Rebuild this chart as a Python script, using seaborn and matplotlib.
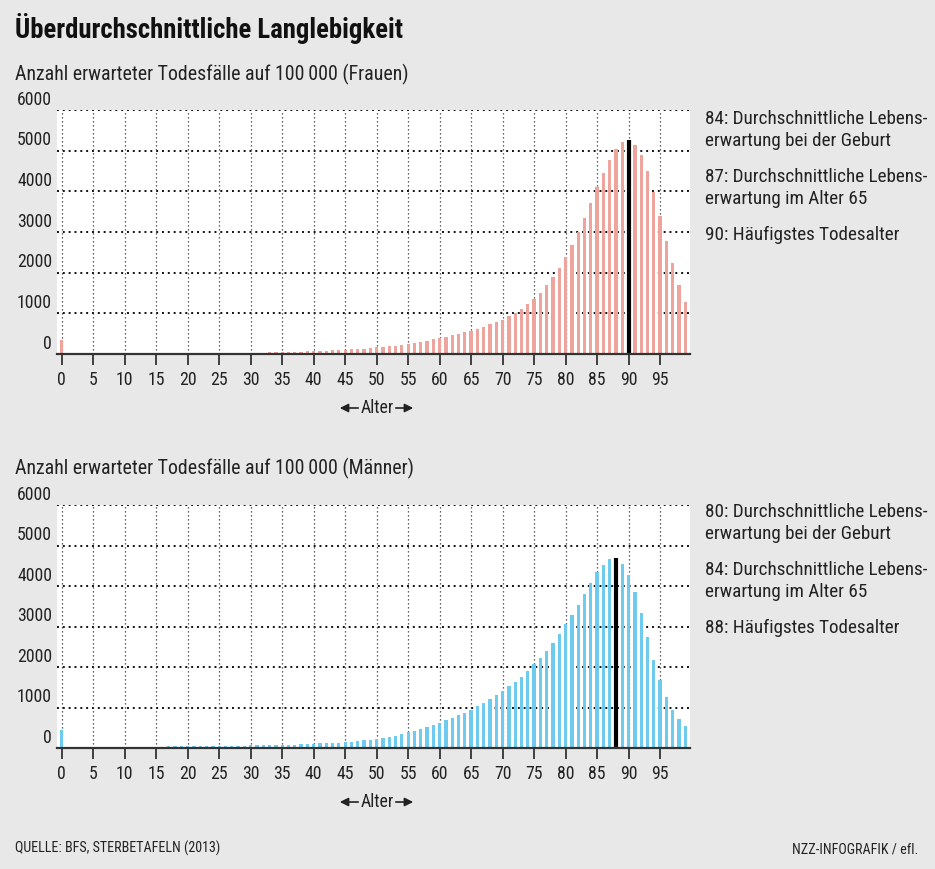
import numpy as np
import pandas as pd
import seaborn as sns
import matplotlib
matplotlib.use("Agg")
import matplotlib.pyplot as plt
from matplotlib import font_manager as fm
from matplotlib.patches import FancyArrowPatch
from matplotlib.transforms import blended_transform_factory

sns.set_theme(style="white")

# ---------------- data ----------------
ages = list(range(0, 100))
frauen = [355, 20, 12, 9, 7, 7, 6, 6, 6, 6, 7, 7, 8, 9, 11, 13, 17, 20, 22, 21,
          21, 21, 21, 21, 22, 23, 24, 25, 27, 28, 30, 32, 35, 38, 41, 44, 48, 52, 57, 62,
          68, 74, 80, 87, 95, 100, 115, 123, 130, 148, 164, 170, 190, 205, 213, 238, 270, 287, 312, 360,
          385, 418, 460, 493, 533, 575, 624, 673, 730, 780, 845, 936, 1018, 1100, 1223, 1355, 1510, 1700, 1888, 2110,
          2397, 2685, 3005, 3350, 3711, 4097, 4458, 4778, 5041, 5205, 5255, 5148, 4901, 4507, 3974, 3391, 2783, 2233, 1708, 1289]
maenner = [453, 25, 15, 10, 8, 8, 7, 7, 7, 7, 8, 9, 10, 13, 17, 22, 30, 40, 50, 55,
           55, 55, 55, 55, 56, 57, 58, 58, 59, 60, 62, 64, 66, 69, 72, 75, 80, 85, 90, 97,
           105, 113, 120, 128, 135, 140, 150, 170, 190, 200, 220, 245, 270, 300, 335, 385, 420, 470, 520, 570,
           617, 683, 732, 806, 872, 946, 1029, 1111, 1202, 1300, 1407, 1523, 1638, 1761, 1909, 2066, 2230, 2403, 2601, 2823,
           3053, 3292, 3539, 3802, 4074, 4337, 4527, 4667, 4680, 4551, 4263, 3852, 3333, 2749, 2181, 1671, 1267, 947, 724, 551]
yticks = [0, 1000, 2000, 3000, 4000, 5000, 6000]
xticks = list(range(0, 100, 5))
mode_f = 90
mode_m = 88
notes_f = ["84: Durchschnittliche Lebens-\nerwartung bei der Geburt",
           "87: Durchschnittliche Lebens-\nerwartung im Alter 65",
           "90: Häufigstes Todesalter"]
notes_m = ["80: Durchschnittliche Lebens-\nerwartung bei der Geburt",
           "84: Durchschnittliche Lebens-\nerwartung im Alter 65",
           "88: Häufigstes Todesalter"]
title = "Überdurchschnittliche Langlebigkeit"
sub_f = "Anzahl erwarteter Todesfälle auf 100\u2009000 (Frauen)"
sub_m = "Anzahl erwarteter Todesfälle auf 100\u2009000 (Männer)"
source = "QUELLE: BFS, STERBETAFELN (2013)"
credit = "NZZ-INFOGRAFIK / efl."

# ---------------- fonts ----------------
avail = {f.name for f in fm.fontManager.ttflist}
STRETCH = "normal"
K = 1.0
if "Liberation Sans Narrow" in avail:
    FONT, K = "Liberation Sans Narrow", 1.15
elif "Roboto Condensed" in avail:
    FONT, K = "Roboto Condensed", 1.12
elif any(f.name == "DejaVu Sans" and "ondensed" in f.fname for f in fm.fontManager.ttflist):
    FONT, STRETCH, K = "DejaVu Sans", "condensed", 0.98
else:
    FONT = "Roboto" if "Roboto" in avail else "DejaVu Sans"
plt.rcParams['font.family'] = [FONT, 'DejaVu Sans']
plt.rcParams['font.stretch'] = STRETCH

BG = "#e8e8e8"
TXT = "#222222"
W, H = 935, 869
fig = plt.figure(figsize=(W / 100, H / 100), dpi=100, facecolor=BG)

FS_TICK = 11.4 * K
FS_NOTE = 12.3 * K
FS_SUB = 12.8 * K
FS_TITLE = 17.2 * K
FS_FOOT = 9.0 * K


def fx(px):
    return px / W


def fy(py):
    return 1 - py / H


def panel(top_px, bottom_px, values, color, mode, notes, note_y):
    left_px, right_px = 57, 690
    ax = fig.add_axes([fx(left_px), fy(bottom_px), fx(right_px - left_px), (bottom_px - top_px) / H])
    ax.set_facecolor("white")
    df = pd.DataFrame({"Alter": ages, "Wert": values})
    sns.barplot(data=df, x="Alter", y="Wert", native_scale=True, color=color,
                saturation=1, width=0.52, linewidth=0, ax=ax, zorder=2)
    ax.vlines(mode, 0, values[ages.index(mode)], color="black", lw=3, zorder=4)
    ax.set_xlim(-0.75, 99.75)
    ax.set_ylim(0, 6000)
    for s in ["top", "right", "left"]:
        ax.spines[s].set_visible(False)
    ax.spines["bottom"].set_color("#333333")
    ax.spines["bottom"].set_linewidth(1.6)
    ax.spines["bottom"].set_zorder(5)
    for yv in yticks[1:]:
        ax.axhline(yv, color="#111111", lw=1.4, ls=(0, (1, 2)), zorder=0.5)
    for xv in xticks:
        ax.axvline(xv, color="#333333", lw=0.9, ls=(0, (1, 2.2)), zorder=0.5)
    ax.set_yticks([])
    ax.set_xticks(xticks)
    ax.set_xticklabels([str(v) for v in xticks], fontsize=FS_TICK, color=TXT)
    ax.tick_params(axis="x", length=8, width=1.3, color="#333333", pad=4, bottom=True)
    ax.set_xlabel("")
    ax.set_ylabel("")
    tr = blended_transform_factory(fig.transFigure, ax.transData)
    for yv in yticks:
        ax.text(fx(52), yv + 30, str(yv), transform=tr, ha="right", va="bottom",
                fontsize=FS_TICK, color=TXT)
    for n, yy in zip(notes, note_y):
        fig.text(fx(705), fy(yy), n, ha="left", va="top", fontsize=FS_NOTE, color=TXT, linespacing=1.3)
    ya = bottom_px + 54
    fig.text(fx(377), fy(ya), "Alter", ha="center", va="center", fontsize=FS_TICK, color=TXT)
    for x0, x1 in [(361, 337), (393, 416)]:
        fig.add_artist(FancyArrowPatch((fx(x0), fy(ya)), (fx(x1), fy(ya)),
                       transform=fig.transFigure, arrowstyle="-|>,head_length=5,head_width=2.5",
                       color=TXT, lw=1.2))
    return ax


fig.text(fx(15), fy(38), title, fontsize=FS_TITLE, fontweight="bold", color="#111111", ha="left", va="baseline")
fig.text(fx(15), fy(80), sub_f, fontsize=FS_SUB, color=TXT, ha="left", va="baseline")
fig.text(fx(15), fy(474), sub_m, fontsize=FS_SUB, color=TXT, ha="left", va="baseline")

panel(110, 354, frauen, "#eca49d", mode_f, notes_f, [110, 168, 226])
panel(505, 748, maenner, "#6ecbee", mode_m, notes_m, [503, 561, 619])

fig.text(fx(15), fy(853), source, fontsize=FS_FOOT, color=TXT, ha="left", va="baseline")
fig.text(fx(918), fy(853), credit, fontsize=FS_FOOT, color=TXT, ha="right", va="baseline")

fig.savefig("out.png", dpi=100, facecolor=BG)
